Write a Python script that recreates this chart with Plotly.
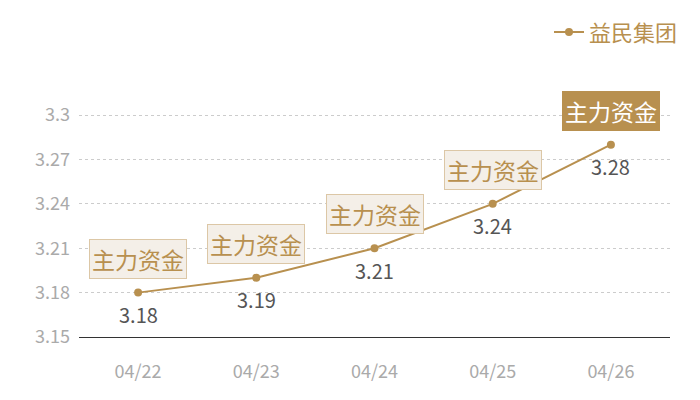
import plotly.graph_objects as go

# 益民集团 主力资金
dates = ["04/22", "04/23", "04/24", "04/25", "04/26"]
values = [3.18, 3.19, 3.21, 3.24, 3.28]
box_labels = ["主力资金", "主力资金", "主力资金", "主力资金", "主力资金"]
y_ticks = [3.15, 3.18, 3.21, 3.24, 3.27, 3.3, 3.31]
y_tick_text = ["3.15", "3.18", "3.21", "3.24", "3.27", "3.3", ""]

gold = "#b8904f"
font = "Noto Sans CJK SC, Noto Sans, sans-serif"

fig = go.Figure()
fig.add_trace(go.Scatter(
    x=dates, y=values, name="益民集团",
    mode="lines+markers",
    line=dict(color=gold, width=2),
    marker=dict(color=gold, size=8),
))

for i, (d, v, lab) in enumerate(zip(dates, values, box_labels)):
    last = i == len(dates) - 1
    # 数值标签
    fig.add_annotation(
        x=d, y=v, xref="x", yref="y", text=f"{v:.2f}", showarrow=False,
        yshift=-22, font=dict(size=20, color="#555555", family=font),
    )
    # 标签框, 最后一个高亮
    fig.add_annotation(
        x=d, y=v, xref="x", yref="y", text=lab, showarrow=False,
        yshift=34,
        font=dict(size=23, color="#ffffff" if last else gold, family=font),
        bgcolor=gold if last else "#f4efe8",
        bordercolor=gold if last else "#dcc7a6",
        borderwidth=1, borderpad=2,
    )

# 页面 body 默认有 8px 边距, 所以图整体缩小 8px
fig.update_layout(
    width=692, height=392,
    margin=dict(l=71, r=30, t=92, b=63, autoexpand=False),
    plot_bgcolor="white", paper_bgcolor="white",
    font=dict(family=font),
    showlegend=True,
    legend=dict(x=1.022, xanchor="right", y=1.375, yanchor="top",
                font=dict(size=22, color=gold, family=font),
                bgcolor="rgba(0,0,0,0)", itemwidth=30),
    xaxis=dict(range=[-0.5, 4.5], showgrid=False, showline=True,
               linecolor="#333333", linewidth=1,
               ticks="", tickfont=dict(size=18, color="#aaaaaa"),
               ticklabelstandoff=18),
    yaxis=dict(range=[3.15, 3.3102], tickvals=y_ticks, ticktext=y_tick_text,
               showgrid=True, gridcolor="#cccccc", griddash="dot", gridwidth=1,
               zeroline=False, showline=False, ticks="",
               tickfont=dict(size=18, color="#aaaaaa"), ticklabelstandoff=8),
)

fig.write_html("out.html")
